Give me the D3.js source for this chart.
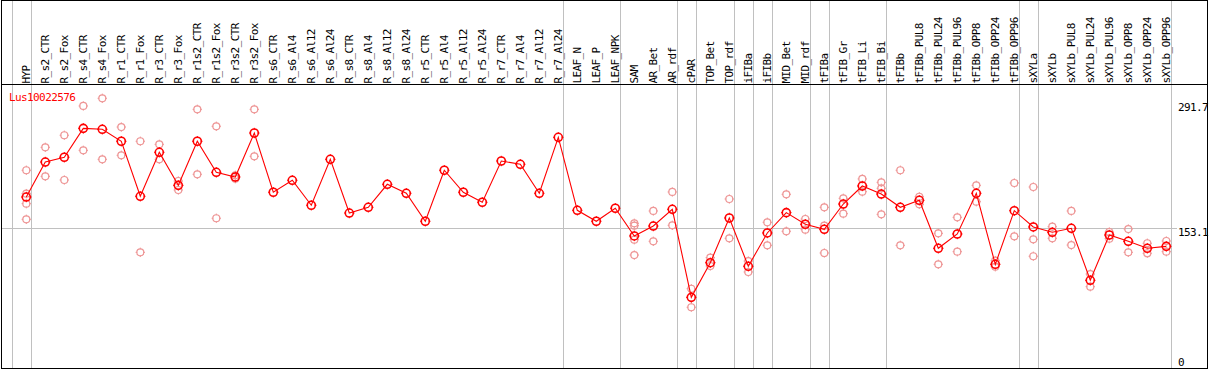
<!DOCTYPE html>
<html>
<head>
<meta charset="utf-8">
<script src="https://cdn.jsdelivr.net/npm/d3@7/dist/d3.min.js"></script>
<style>
  html, body { margin: 0; padding: 0; background: #fff; }
  svg { display: block; }
  text { font-family: "DejaVu Sans Mono", monospace; font-size: 11px; letter-spacing: -0.6px; }
</style>
</head>
<body>
<svg id="chart" width="1209" height="370"></svg>
<script>
// ---------------- DATA ----------------
const title = "Lus10022576";

const categories = [
  "HYP","R_s2_CTR","R_s2_Fox","R_s4_CTR","R_s4_Fox","R_r1_CTR","R_r1_Fox","R_r3_CTR","R_r3_Fox",
  "R_r1s2_CTR","R_r1s2_Fox","R_r3s2_CTR","R_r3s2_Fox","R_s6_CTR","R_s6_Al4","R_s6_Al12","R_s6_Al24",
  "R_s8_CTR","R_s8_Al4","R_s8_Al12","R_s8_Al24","R_r5_CTR","R_r5_Al4","R_r5_Al12","R_r5_Al24",
  "R_r7_CTR","R_r7_Al4","R_r7_Al12","R_r7_Al24","LEAF_N","LEAF_P","LEAF_NPK","SAM","AR_Bet","AR_rdf",
  "cPAR","TOP_Bet","TOP_rdf","iFIBa","iFIBb","MID_Bet","MID_rdf","tFIBa","tFIB_Gr","tFIB_Li","tFIB_Bi",
  "tFIBb","tFIBb_PUL8","tFIBb_PUL24","tFIBb_PUL96","tFIBb_OPP8","tFIBb_OPP24","tFIBb_OPP96",
  "sXYLa","sXYLb","sXYLb_PUL8","sXYLb_PUL24","sXYLb_PUL96","sXYLb_OPP8","sXYLb_OPP24","sXYLb_OPP96"
];

// mean expression per sample
const meanValues = [
  186.2,223.6,228.7,259.6,258.6,245.8,187.0,234.0,198.7,
  245.8,212.6,207.6,254.6,191.3,204.1,177.4,226.5,
  169.1,175.2,199.8,190.2,160.3,214.8,191.3,180.6,
  224.7,221.2,190.2,250.0,172.0,160.3,174.2,144.6,155.2,173.1,
  79.0,116.0,163.8,112.2,147.8,169.5,157.1,151.7,178.7,198.0,189.4,
  175.2,182.7,131.4,146.7,190.2,114.3,171.6,
  154.2,148.5,152.8,97.2,145.6,138.9,131.4,133.5
];

// individual replicate values per sample
const replicates = [
  [214.8,189.8,179.1,162.4],[239.3,208.3],[252.2,204.4],[283.5,236.1],[291.7,226.5],
  [261.0,230.8],[245.8,127.1],[242.5,226.5],[203.3,193.7],
  [279.9,210.5],[261.8,163.5],[209.4,205.8],[279.9,229.7],[],[],[],[],
  [],[],[],[],[],[],[],[],
  [],[],[],[],[],[],[],[158.1,155.6,140.6,124.2],[171.3,138.9],[191.6,156.0],
  [88.2,68.4],[121.4,112.5],[184.1,142.1],[117.8,106.1],[159.2,134.6],[189.1,149.6],[162.7,151.3],
  [175.2,155.6,126.4],[184.8,168.4],[205.5,191.9],[201.9,195.5,167.7],
  [214.8,134.6],[186.5,178.4],[147.4,114.3],[164.5,127.8],[198.7,181.2],[118.2,111.7],[201.2,144.2],
  [196.9,141.0,122.9],[154.5,142.1],[171.3,134.9],[103.9,90.4],[148.8,141.7],[152.0,127.1],[136.8,126.1],[139.2,127.8]
];

// last sample of each group (a separator line follows it)
const groupEnds = ["HYP","R_r7_Al24","LEAF_NPK","AR_rdf","cPAR","TOP_rdf","iFIBa","iFIBb","MID_rdf",
  "tFIBa","tFIB_Bi","tFIBb_OPP96","sXYLa","sXYLb_OPP96"];

const yMax = 291.7;
const referenceValue = 153.1;
const tickLabels = ["291.7","153.1","0"];

// ---------------- DRAWING ----------------
const svg = d3.select("#chart");

const x = d3.scalePoint().domain(categories).range([26.3, 1166.3]);
const y = d3.scaleLinear().domain([0, yMax]).range([371.27, 98.3]);
const step = x.step();
const headerBottom = 84.5;
const plotBottom = 368.5;

const crisp = v => Math.round(v) + 0.5;

// group separator lines (full height)
const sepX = [x(categories[0]) - step + 4.4].concat(groupEnds.map(c => x(c) + 4.4));
svg.append("g").selectAll("line").data(sepX).join("line")
  .attr("x1", d => crisp(d)).attr("x2", d => crisp(d))
  .attr("y1", 0).attr("y2", plotBottom)
  .attr("stroke", "#c0c0c0").attr("stroke-width", 1);

// reference horizontal line
svg.append("line")
  .attr("x1", 2).attr("x2", 1177)
  .attr("y1", crisp(y(referenceValue))).attr("y2", crisp(y(referenceValue)))
  .attr("stroke", "#c0c0c0").attr("stroke-width", 1);

// header labels
svg.append("g").selectAll("text").data(categories).join("text")
  .attr("transform", d => `translate(${x(d) + 3.8},83.5) rotate(-90)`)
  .attr("text-anchor", "start")
  .attr("fill", "#000")
  .text(d => d);

// header separator and border
svg.append("line").attr("x1", 1).attr("x2", 1208).attr("y1", headerBottom).attr("y2", headerBottom)
  .attr("stroke", "#000").attr("stroke-width", 1);
svg.append("rect").attr("x", 1.5).attr("y", 0.5).attr("width", 1206).attr("height", 368)
  .attr("fill", "none").attr("stroke", "#000").attr("stroke-width", 1);

// right tick labels
svg.append("g").selectAll("text").data(tickLabels).join("text")
  .attr("x", 1178)
  .attr("y", d => Math.max(111, Math.min(366, y(+d) + 8)))
  .attr("fill", "#000")
  .text(d => d);

// title
svg.append("text").attr("x", 9).attr("y", 100.5).attr("fill", "#ff0000").text(title);

// marker helper: circle with small ticks
function marker(g, cx, cy, r, color, sw) {
  g.append("circle").attr("cx", cx).attr("cy", cy).attr("r", r)
    .attr("fill", "none").attr("stroke", color).attr("stroke-width", sw);
  const t = 1.2;
  g.append("path")
    .attr("d", `M${cx},${cy - r - t}V${cy - r + 0.5}M${cx},${cy + r - 0.5}V${cy + r + t}` +
               `M${cx - r - t},${cy}H${cx - r + 0.5}M${cx + r - 0.5},${cy}H${cx + r + t}`)
    .attr("stroke", color).attr("stroke-width", 1).attr("fill", "none");
}

// replicate points
const repG = svg.append("g");
const repPts = [];
categories.forEach((c, i) => replicates[i].forEach(v => repPts.push([c, v])));
repPts.forEach(([c, v]) => marker(repG, x(c), y(v), 3.5, "#ee9696", 1.2));

// mean line
const line = d3.line().x((d, i) => x(categories[i])).y(d => y(d));
svg.append("path").datum(meanValues).attr("d", line)
  .attr("fill", "none").attr("stroke", "#ff0000").attr("stroke-width", 1.1);

// mean markers
const meanG = svg.append("g");
meanValues.forEach((v, i) => marker(meanG, x(categories[i]), y(v), 4, "#ff0000", 1.6));
</script>
</body>
</html>
